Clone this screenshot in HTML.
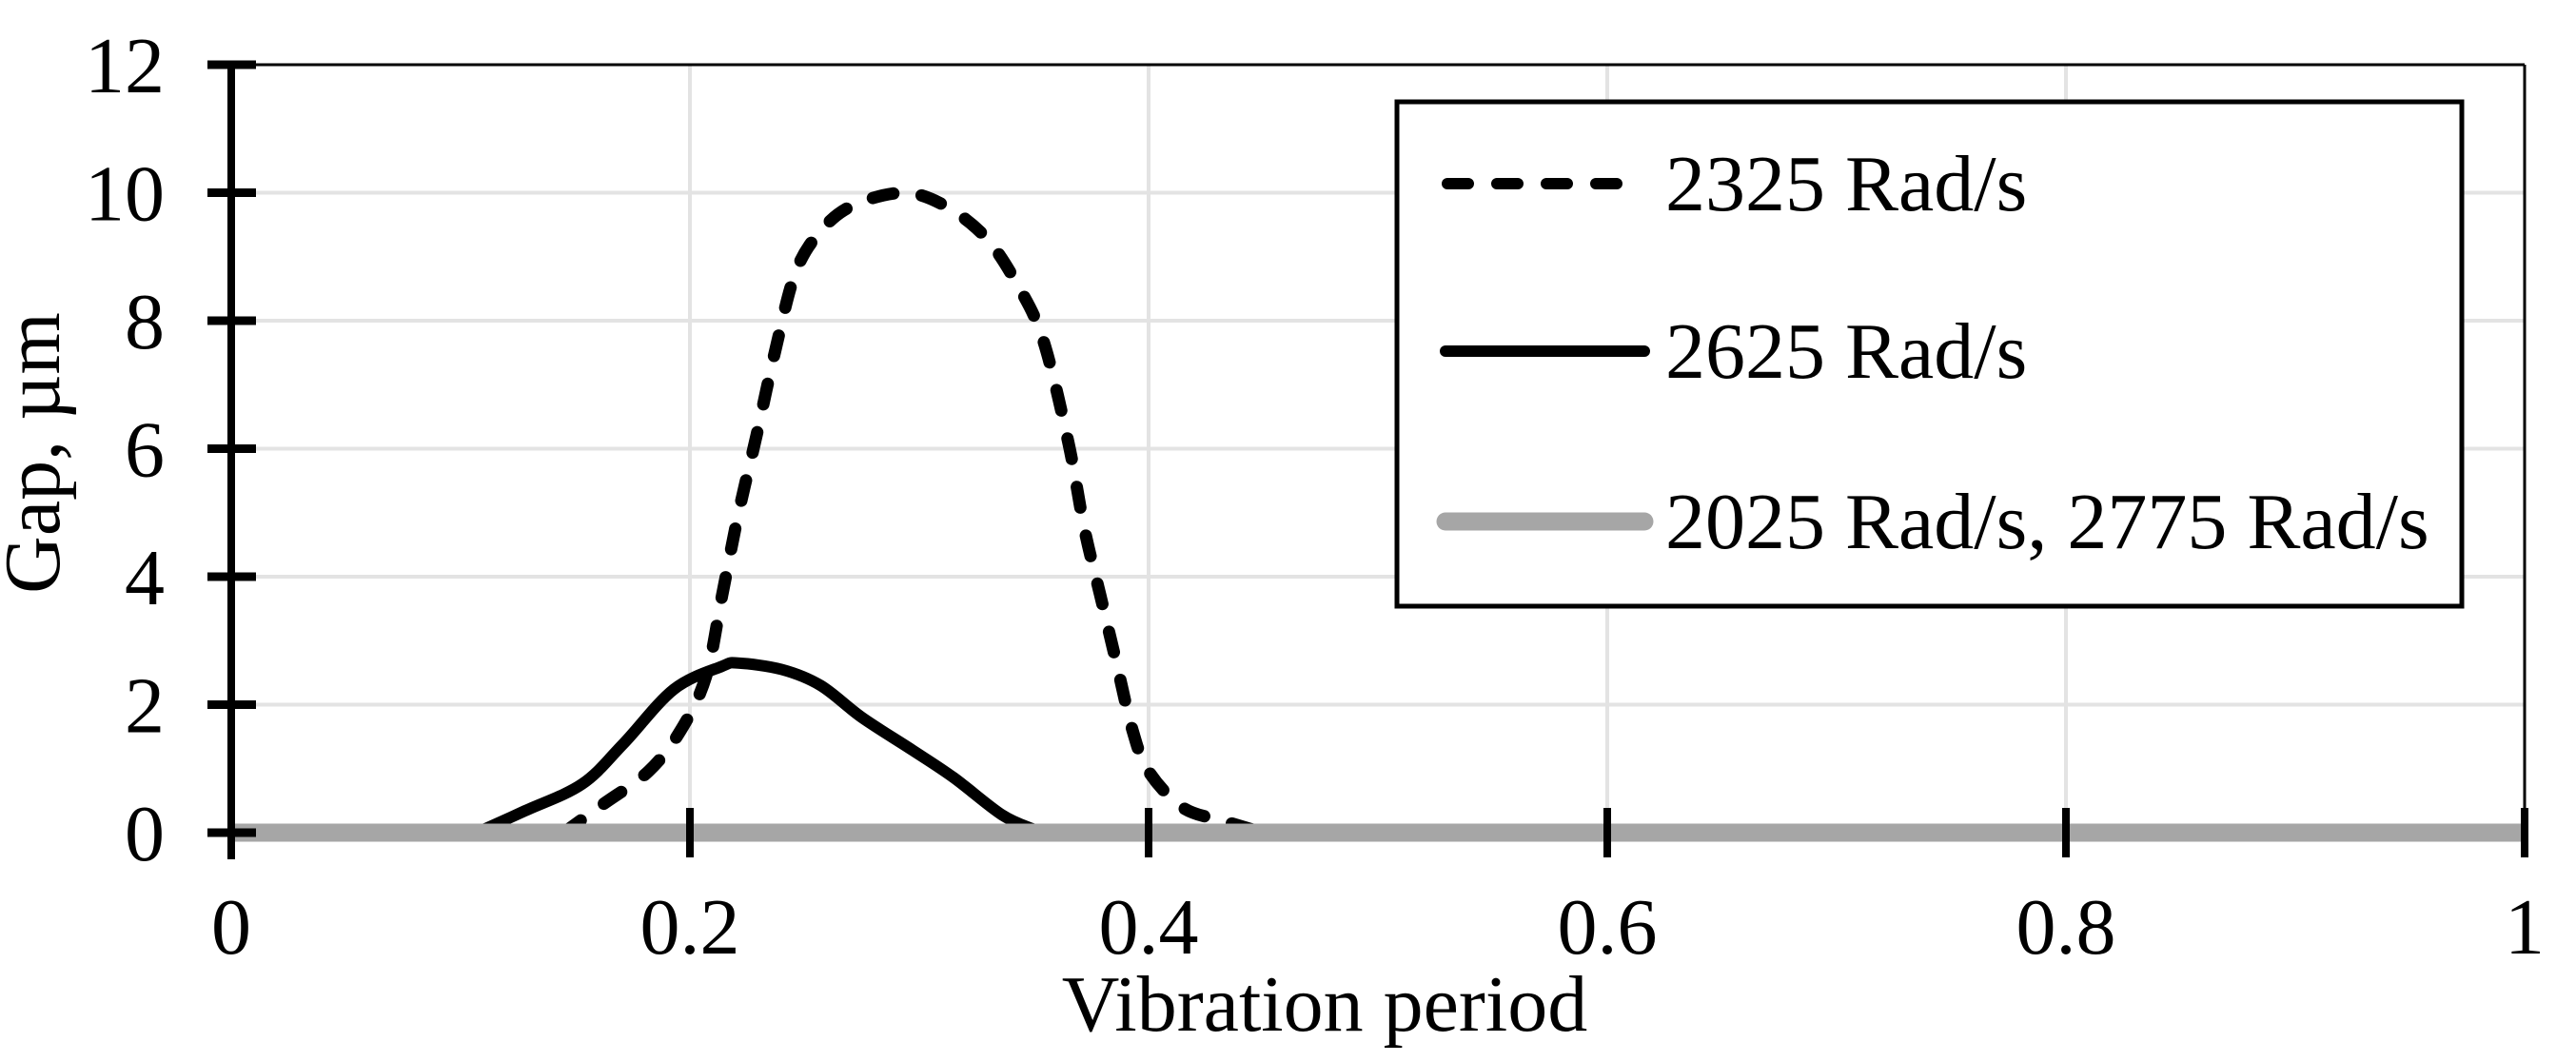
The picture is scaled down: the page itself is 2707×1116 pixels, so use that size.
<!DOCTYPE html>
<html><head><meta charset="utf-8"><style>
html,body{margin:0;padding:0;background:#fff;}
svg{display:block;font-family:"Liberation Serif",serif;}
</style></head><body>
<svg id="chart" width="2707" height="1116" viewBox="0 0 2707 1116" xmlns="http://www.w3.org/2000/svg">
<g id="grid"></g>
<g id="series"></g>
<g id="axes"></g>
<text x="0" y="0" font-size="84" text-anchor="middle" transform="translate(62,476) rotate(-90)">Gap, µm</text>
<text x="1392" y="1083" font-size="84" text-anchor="middle">Vibration period</text>
<g>
<rect x="1468" y="107" width="1119" height="530" fill="#fff" stroke="#000" stroke-width="5"/>
<line x1="1521" y1="193" x2="1728" y2="193" stroke="#000" stroke-width="12" stroke-linecap="round" stroke-dasharray="22 30"/>
<text x="1750" y="221" font-size="84">2325 Rad/s</text>
<line x1="1519" y1="369" x2="1728" y2="369" stroke="#000" stroke-width="12" stroke-linecap="round"/>
<text x="1750" y="397" font-size="84">2625 Rad/s</text>
<line x1="1519" y1="548" x2="1728" y2="548" stroke="#a6a6a6" stroke-width="19" stroke-linecap="round"/>
<text x="1750" y="576" font-size="84">2025 Rad/s, 2775 Rad/s</text>
</g>
</svg>
<script>
const xTicks = [0, 0.2, 0.4, 0.6, 0.8, 1];
const xTickLabels = ["0", "0.2", "0.4", "0.6", "0.8", "1"];
const yTicks = [0, 2, 4, 6, 8, 10, 12];
const yTickLabels = ["0", "2", "4", "6", "8", "10", "12"];
const x2325 = [0.145,0.162,0.182,0.196,0.207,0.214,0.221,0.229,0.237,0.246,0.257,0.271,0.293,0.311,0.329,0.343,0.354,0.365,0.372,0.379,0.386,0.393,0.400,0.415,0.433,0.445];
const y2325 = [0,0.44,0.96,1.6,2.44,3.7,4.96,6.2,7.5,8.75,9.4,9.8,10.0,9.8,9.3,8.55,7.7,6.1,4.75,3.7,2.65,1.6,0.96,0.39,0.18,0.05];
const x2625 = [0.107,0.128,0.153,0.171,0.193,0.214,0.221,0.240,0.257,0.275,0.297,0.315,0.336,0.350];
const y2625 = [0,0.34,0.76,1.39,2.24,2.6,2.65,2.55,2.3,1.8,1.29,0.86,0.28,0.05];
const xFlat = [0, 1];
const yFlat = [0, 0];

const X0 = 243, X1 = 2653, Y0 = 875, Y1 = 68;
function sx(v){ return X0 + (v - 0) / (1 - 0) * (X1 - X0); }
function sy(v){ return Y0 - (v - 0) / (12 - 0) * (Y0 - Y1); }
const NS = "http://www.w3.org/2000/svg";
function mk(parent, tag, attrs){ const e = document.createElementNS(NS, tag); for (const k in attrs) e.setAttribute(k, attrs[k]); parent.appendChild(e); return e; }

const grid = document.getElementById('grid');
yTicks.forEach(function(t){
  if (t === 0 || t === 12) return;
  const l = mk(grid, 'line', {x1: X0, x2: X1, y1: sy(t), y2: sy(t), stroke: '#e3e3e3', 'stroke-width': 4});
  
  
});
xTicks.forEach(function(t){
  if (t === 0 || t === 1) return;
  const l = mk(grid, 'line', {x1: sx(t), x2: sx(t), y1: Y1, y2: Y0, stroke: '#e3e3e3', 'stroke-width': 4});
  
  
});

function smoothPath(xs, ys){
  const p = xs.map(function(x, i){ return [sx(x), sy(ys[i])]; });
  let d = 'M' + p[0][0] + ' ' + p[0][1];
  for (let i = 0; i < p.length - 1; i++) {
    const p0 = p[i - 1] || p[i], p1 = p[i], p2 = p[i + 1], p3 = p[i + 2] || p2;
    const c1x = p1[0] + (p2[0] - p0[0]) / 6, c1y = p1[1] + (p2[1] - p0[1]) / 6;
    const c2x = p2[0] - (p3[0] - p1[0]) / 6, c2y = p2[1] - (p3[1] - p1[1]) / 6;
    d += ' C' + c1x + ' ' + c1y + ' ' + c2x + ' ' + c2y + ' ' + p2[0] + ' ' + p2[1];
  }
  return d;
}
const series = document.getElementById('series');
const s1 = mk(series, 'path', {d: smoothPath(x2625, y2625), fill: 'none', stroke: '#000', 'stroke-width': 12, 'stroke-linecap': 'round'});


const s2 = mk(series, 'path', {d: smoothPath(x2325, y2325), fill: 'none', stroke: '#000', 'stroke-width': 13, 'stroke-linecap': 'round', 'stroke-dasharray': '22 30'});


const s3 = mk(series, 'line', {x1: sx(xFlat[0]), y1: sy(yFlat[0]), x2: sx(xFlat[1]), y2: sy(yFlat[1]), stroke: '#a6a6a6', 'stroke-width': 19});



const axes = document.getElementById('axes');
const topBorder = mk(axes, 'line', {x1: X0, x2: X1, y1: Y1, y2: Y1, stroke: '#000', 'stroke-width': 3});


const rightBorder = mk(axes, 'line', {x1: X1, x2: X1, y1: Y1, y2: Y0, stroke: '#000', 'stroke-width': 3});


const yAxis = mk(axes, 'line', {x1: X0, x2: X0, y1: Y1 - 4, y2: 903, stroke: '#000', 'stroke-width': 8});


yTicks.forEach(function(t, i){
  const tk = mk(axes, 'line', {x1: 218, x2: 269, y1: sy(t), y2: sy(t), stroke: '#000', 'stroke-width': 9});
  
  
  const lb = mk(axes, 'text', {x: 173, y: sy(t) + 29, 'font-size': 84, 'text-anchor': 'end'});
  lb.textContent = yTickLabels[i];
  
  
});
xTicks.forEach(function(t, i){
  if (t !== 0) {
    const tk = mk(axes, 'line', {x1: sx(t), x2: sx(t), y1: 849, y2: 901, stroke: '#000', 'stroke-width': 8});
    
    
  }
  const lb = mk(axes, 'text', {x: sx(t), y: 1002, 'font-size': 84, 'text-anchor': 'middle'});
  lb.textContent = xTickLabels[i];
  
  
});
</script>
</body></html>
